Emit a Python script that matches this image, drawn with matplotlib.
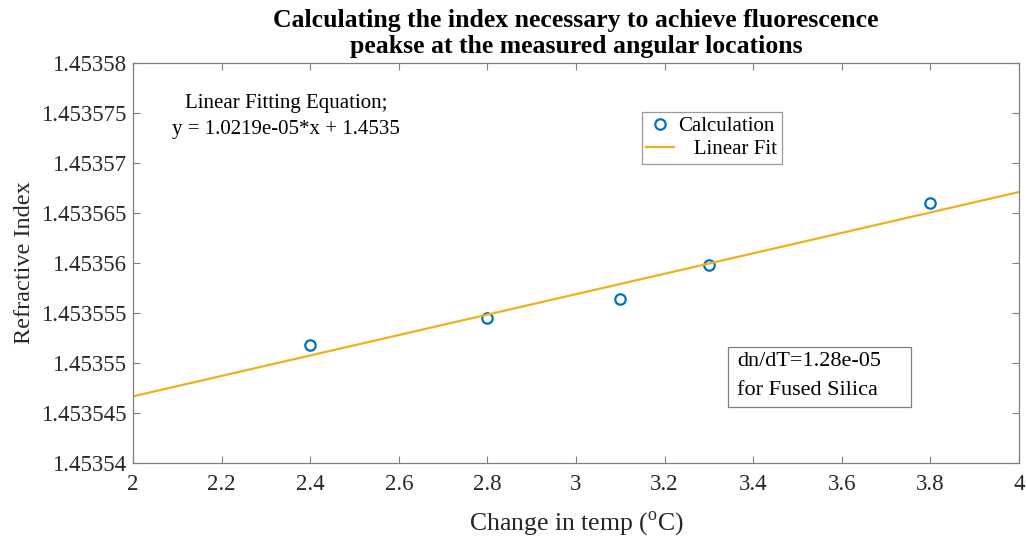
import numpy as np
import matplotlib
matplotlib.use("Agg")
import matplotlib.pyplot as plt
from matplotlib.patches import Rectangle

plt.rcParams['font.family'] = ['Liberation Serif', 'DejaVu Serif']
plt.rcParams['mathtext.fontset'] = 'custom'
plt.rcParams['mathtext.rm'] = 'Liberation Serif'

# measured temperature changes and the index needed for each peak
temp_change = [2.4, 2.8, 3.1, 3.3, 3.8]
refr_index = [1.4535518, 1.4535545, 1.4535564, 1.4535598, 1.4535660]

x_ticks = [2, 2.2, 2.4, 2.6, 2.8, 3, 3.2, 3.4, 3.6, 3.8, 4]
y_ticks = [1.45354, 1.453545, 1.45355, 1.453555, 1.45356,
           1.453565, 1.45357, 1.453575, 1.45358]
y_labels = ['1.45354', '1.453545', '1.45355', '1.453555', '1.45356',
            '1.453565', '1.45357', '1.453575', '1.45358']

# straight line fit
p = np.polyfit(temp_change, refr_index, 1)
xf = np.linspace(2, 4, 50)
yf = np.polyval(p, xf)

fig = plt.figure(figsize=(10.26, 5.37), dpi=100)
ax = fig.add_axes([133 / 1026, (537 - 463) / 537, 886 / 1026, 400 / 537])

ax.plot(temp_change, refr_index, 'o', mfc='none', mec='#0072BD',
        mew=1.6, ms=7.5, label='Calculation')
ax.plot(xf, yf, color='#EDB120', lw=1.6, label='   Linear Fit')

ax.set_xlim(2, 4)
ax.set_ylim(1.45354, 1.45358)
ax.set_xticks(x_ticks)
ax.set_xticklabels([f'{v:g}' for v in x_ticks])
ax.set_yticks(y_ticks)
ax.set_yticklabels(y_labels)

for s in ax.spines.values():
    s.set_color('#808080')
    s.set_linewidth(0.9)
ax.tick_params(direction='in', top=True, right=True, length=5,
               color='#808080', labelsize=16.5, labelcolor='#262626', pad=5)
ax.tick_params(axis='x', pad=8)

ax.set_xlabel('Change in temp ($^{\\rm o}$C)', fontsize=18.5, color='#262626', labelpad=10)
ax.set_ylabel('Refractive Index', fontsize=17.5, color='#262626', labelpad=4)
ax.set_title('Calculating the index necessary to achieve fluorescence\n'
             'peakse at the measured angular locations',
             fontsize=18.5, fontweight='bold', linespacing=1.2, pad=7)

leg = ax.legend(loc='upper left', bbox_to_anchor=(0.574, 0.878), fontsize=15,
                frameon=True, fancybox=False, edgecolor='#808080',
                borderpad=0.22, handlelength=1.35, labelspacing=0.18,
                handletextpad=0.2, borderaxespad=0)
leg.get_frame().set_linewidth(0.9)

ax.text(0.173, 0.867, 'Linear Fitting Equation;\ny = 1.0219e-05*x + 1.4535',
        transform=ax.transAxes, ha='center', va='center', fontsize=15,
        linespacing=1.5)

# dn/dT note with its frame
ax.add_patch(Rectangle((0.6716, 0.14), 0.2065, 0.15, transform=ax.transAxes,
                       fc='white', ec='#808080', lw=0.9, zorder=3))
ax.text(0.6817, 0.2175, 'dn/dT=1.28e-05\nfor Fused Silica',
        transform=ax.transAxes, ha='left', va='center', fontsize=16,
        linespacing=1.65, zorder=4)

fig.savefig('out.png', dpi=100)
